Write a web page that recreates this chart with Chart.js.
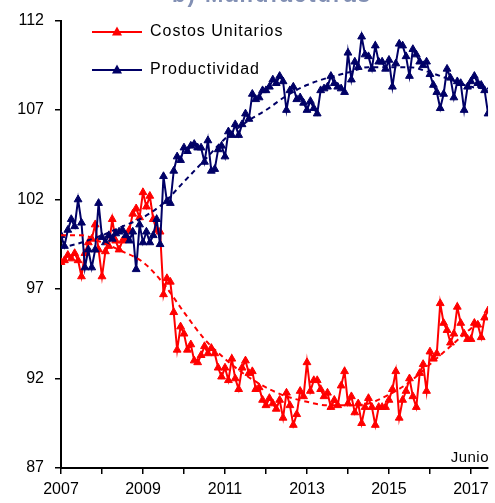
<!DOCTYPE html>
<html>
<head>
<meta charset="utf-8">
<script src="https://cdn.jsdelivr.net/npm/chart.js@4/dist/chart.umd.min.js"></script>
<style>
  html, body { margin: 0; padding: 0; background: #fff; }
  #wrap { width: 495px; height: 503px; position: relative; }
</style>
</head>
<body>
<div id="wrap"><canvas id="c" width="495" height="503"></canvas></div>
<script>
// Monthly index values, January 2007 to June 2017
const startYear = 2007;
const seriesNames = ['Costos Unitarios', 'Productividad'];

const costosUnitarios = [
  98.5, 98.6, 98.9, 98.7, 99.0, 98.6, 97.7, 99.0, 99.6, 99.8, 100.6, 99.2,   // 2007
  97.7, 99.1, 99.4, 100.9, 99.7, 99.2, 99.7, 99.8, 100.3, 101.2, 101.5, 101.0, // 2008
  102.4, 101.6, 102.2, 100.9, 100.3, 100.2, 96.7, 97.6, 97.4, 95.7, 93.6, 94.9, // 2009
  94.5, 93.6, 93.9, 93.0, 92.9, 93.3, 93.8, 93.4, 93.7, 93.4, 92.6, 92.1,     // 2010
  92.6, 91.9, 93.1, 92.0, 91.4, 92.6, 93.0, 92.3, 92.4, 91.4, 91.5, 90.8,     // 2011
  90.5, 90.9, 90.6, 90.3, 90.8, 89.8, 91.2, 90.5, 89.4, 90.0, 91.3, 91.0,     // 2012
  92.9, 91.3, 91.9, 91.9, 91.4, 91.0, 91.2, 90.4, 90.8, 90.5, 91.6, 92.4,     // 2013
  90.6, 91.0, 90.1, 90.6, 89.5, 90.4, 90.9, 90.4, 89.4, 90.4, 90.4, 90.4,     // 2014
  90.8, 91.4, 92.4, 89.8, 90.8, 91.3, 92.0, 91.0, 90.4, 92.3, 92.8, 91.3,     // 2015
  93.5, 93.1, 93.4, 96.2, 95.1, 94.7, 94.0, 94.5, 96.0, 95.1, 94.5, 94.2,     // 2016
  94.2, 95.1, 95.0, 94.3, 95.4, 95.8                                          // 2017
];

const productividad = [
  100.0, 99.4, 100.3, 100.9, 100.5, 102.0, 100.7, 98.2, 99.2, 98.2, 99.2, 101.8, // 2007
  99.9, 99.6, 100.0, 99.8, 100.1, 100.2, 100.3, 100.0, 99.7, 100.2, 98.1, 100.6, // 2008
  99.6, 100.2, 99.6, 100.0, 100.9, 99.5, 103.3, 101.9, 101.8, 103.6, 104.4, 104.2, // 2009
  104.9, 104.7, 105.0, 105.1, 104.9, 104.9, 104.1, 105.3, 103.6, 103.7, 104.8, 105.0, // 2010
  104.4, 105.8, 105.6, 106.2, 105.6, 106.2, 106.8, 106.5, 107.9, 107.6, 107.7, 108.1, // 2011
  108.1, 108.3, 108.7, 108.5, 108.9, 108.6, 107.0, 108.1, 108.3, 107.6, 107.7, 107.4, // 2012
  107.0, 107.5, 107.1, 106.8, 108.1, 108.2, 108.3, 108.9, 108.5, 108.3, 108.2, 108.0, // 2013
  110.2, 108.7, 109.7, 109.4, 111.1, 110.1, 110.0, 109.3, 110.6, 109.7, 109.7, 109.3, // 2014
  109.8, 108.3, 109.6, 110.7, 110.6, 110.0, 108.9, 110.4, 110.1, 109.7, 109.5, 109.7, // 2015
  109.0, 108.4, 108.0, 107.1, 107.9, 109.3, 108.8, 107.7, 108.6, 108.5, 107.0, 108.3, // 2016
  108.6, 108.9, 108.5, 108.4, 108.1, 106.8                                              // 2017
];

// Trend lines, read at half-year points
const trendYears = [2007, 2007.5, 2008, 2008.5, 2009, 2009.5, 2010, 2010.5, 2011, 2011.5,
  2012, 2012.5, 2013, 2013.5, 2014, 2014.5, 2015, 2015.5, 2016, 2016.5, 2017, 2017 + 5 / 12];
const costosTrend = [100.0, 100.0, 99.6, 99.1, 98.5, 97.3, 95.7, 94.2, 93.1, 92.2,
  91.5, 91.0, 90.7, 90.5, 90.5, 90.6, 91.1, 91.8, 92.8, 93.8, 94.8, 95.5];
const productividadTrend = [99.3, 99.6, 100.0, 100.5, 101.0, 101.8, 103.0, 104.2, 105.4, 106.3,
  107.0, 107.8, 108.4, 108.8, 109.1, 109.4, 109.4, 109.4, 109.1, 108.7, 108.3, 108.2];

const yTicks = [87, 92, 97, 102, 107, 112];
const xLabelYears = [2007, 2009, 2011, 2013, 2015, 2017];
const lastLabel = 'Junio';
const titleText = 'b) Manufacturas';

const RED = '#ff0000';
const NAVY = '#000066';

const monthly = arr => arr.map((v, i) => ({ x: startYear + i / 12, y: v }));
const trend = arr => arr.map((v, i) => ({ x: trendYears[i], y: v }));

const ctx = document.getElementById('c').getContext('2d');

const overlay = {
  id: 'overlay',
  afterDraw(chart) {
    const c = chart.ctx;
    const area = chart.chartArea;
    c.save();
    // legend inside the plot
    const rows = [
      { name: seriesNames[0], color: RED, y: 32 },
      { name: seriesNames[1], color: NAVY, y: 70 }
    ];
    rows.forEach(r => {
      c.strokeStyle = r.color;
      c.lineWidth = 2;
      c.beginPath();
      c.moveTo(92, r.y);
      c.lineTo(142, r.y);
      c.stroke();
      c.fillStyle = r.color;
      c.beginPath();
      c.moveTo(117, r.y - 5.5);
      c.lineTo(122, r.y + 3.5);
      c.lineTo(112, r.y + 3.5);
      c.closePath();
      c.fill();
      c.fillStyle = '#000';
      c.font = '16px "Liberation Sans", Arial, sans-serif';
      c.letterSpacing = '1px';
      c.textAlign = 'left';
      c.textBaseline = 'middle';
      c.fillText(r.name, 150, r.y);
    });
    // end-of-series note
    c.font = '15px "Liberation Sans", Arial, sans-serif';
    c.letterSpacing = '0.5px';
    c.textAlign = 'right';
    c.textBaseline = 'middle';
    c.fillStyle = '#000';
    c.fillText(lastLabel, area.right + 1, 458);
    // panel title running off the top edge
    c.font = 'bold 22px "Liberation Sans", Arial, sans-serif';
    c.letterSpacing = '2px';
    c.textAlign = 'center';
    c.textBaseline = 'alphabetic';
    c.fillStyle = '#8290b4';
    c.fillText(titleText, 272, 2);
    c.restore();
  }
};

new Chart(ctx, {
  type: 'line',
  data: {
    datasets: [
      {
        label: seriesNames[1],
        data: monthly(productividad),
        borderColor: NAVY,
        backgroundColor: NAVY,
        borderWidth: 2,
        pointStyle: 'triangle',
        pointRadius: 4.5,
        pointBorderWidth: 1,
        tension: 0,
        order: 1
      },
      {
        label: seriesNames[0],
        data: monthly(costosUnitarios),
        borderColor: RED,
        backgroundColor: RED,
        borderWidth: 2,
        pointStyle: 'triangle',
        pointRadius: 4.5,
        pointBorderWidth: 1,
        tension: 0,
        order: 2
      },
      {
        label: seriesNames[1] + ' tendencia',
        data: trend(productividadTrend),
        borderColor: NAVY,
        borderWidth: 2,
        borderDash: [5, 4],
        pointRadius: 0,
        cubicInterpolationMode: 'monotone',
        order: 0
      },
      {
        label: seriesNames[0] + ' tendencia',
        data: trend(costosTrend),
        borderColor: RED,
        borderWidth: 2,
        borderDash: [5, 4],
        pointRadius: 0,
        cubicInterpolationMode: 'monotone',
        order: 0
      }
    ]
  },
  options: {
    responsive: false,
    animation: false,
    events: [],
    layout: { padding: { left: 0, right: 6, top: 16, bottom: 0 } },
    plugins: { legend: { display: false }, tooltip: { enabled: false } },
    scales: {
      x: {
        type: 'linear',
        min: startYear,
        max: 2017 + 5 / 12,
        afterFit(s) { s.height = 35; },
        afterBuildTicks(s) {
          s.ticks = [];
          for (let y = startYear; y <= 2017; y++) s.ticks.push({ value: y });
        },
        ticks: {
          autoSkip: false,
          maxRotation: 0,
          padding: 6,
          color: '#000',
          font: { family: '"Liberation Sans", Arial, sans-serif', size: 16 },
          callback: v => xLabelYears.includes(v) ? String(v) : ''
        },
        grid: { drawOnChartArea: false, drawTicks: true, tickLength: 6, color: '#000', lineWidth: 1.5 },
        border: { display: true, color: '#000', width: 2 }
      },
      y: {
        min: yTicks[0],
        max: yTicks[yTicks.length - 1],
        afterFit(s) { s.width = 61; },
        afterBuildTicks(s) { s.ticks = yTicks.map(v => ({ value: v })); },
        ticks: {
          padding: 11,
          color: '#000',
          font: { family: '"Liberation Sans", Arial, sans-serif', size: 16 },
          callback: v => String(v)
        },
        grid: { drawOnChartArea: false, drawTicks: true, tickLength: 6, color: '#000', lineWidth: 1.5 },
        border: { display: true, color: '#000', width: 2 }
      }
    }
  },
  plugins: [overlay]
});
</script>
</body>
</html>
